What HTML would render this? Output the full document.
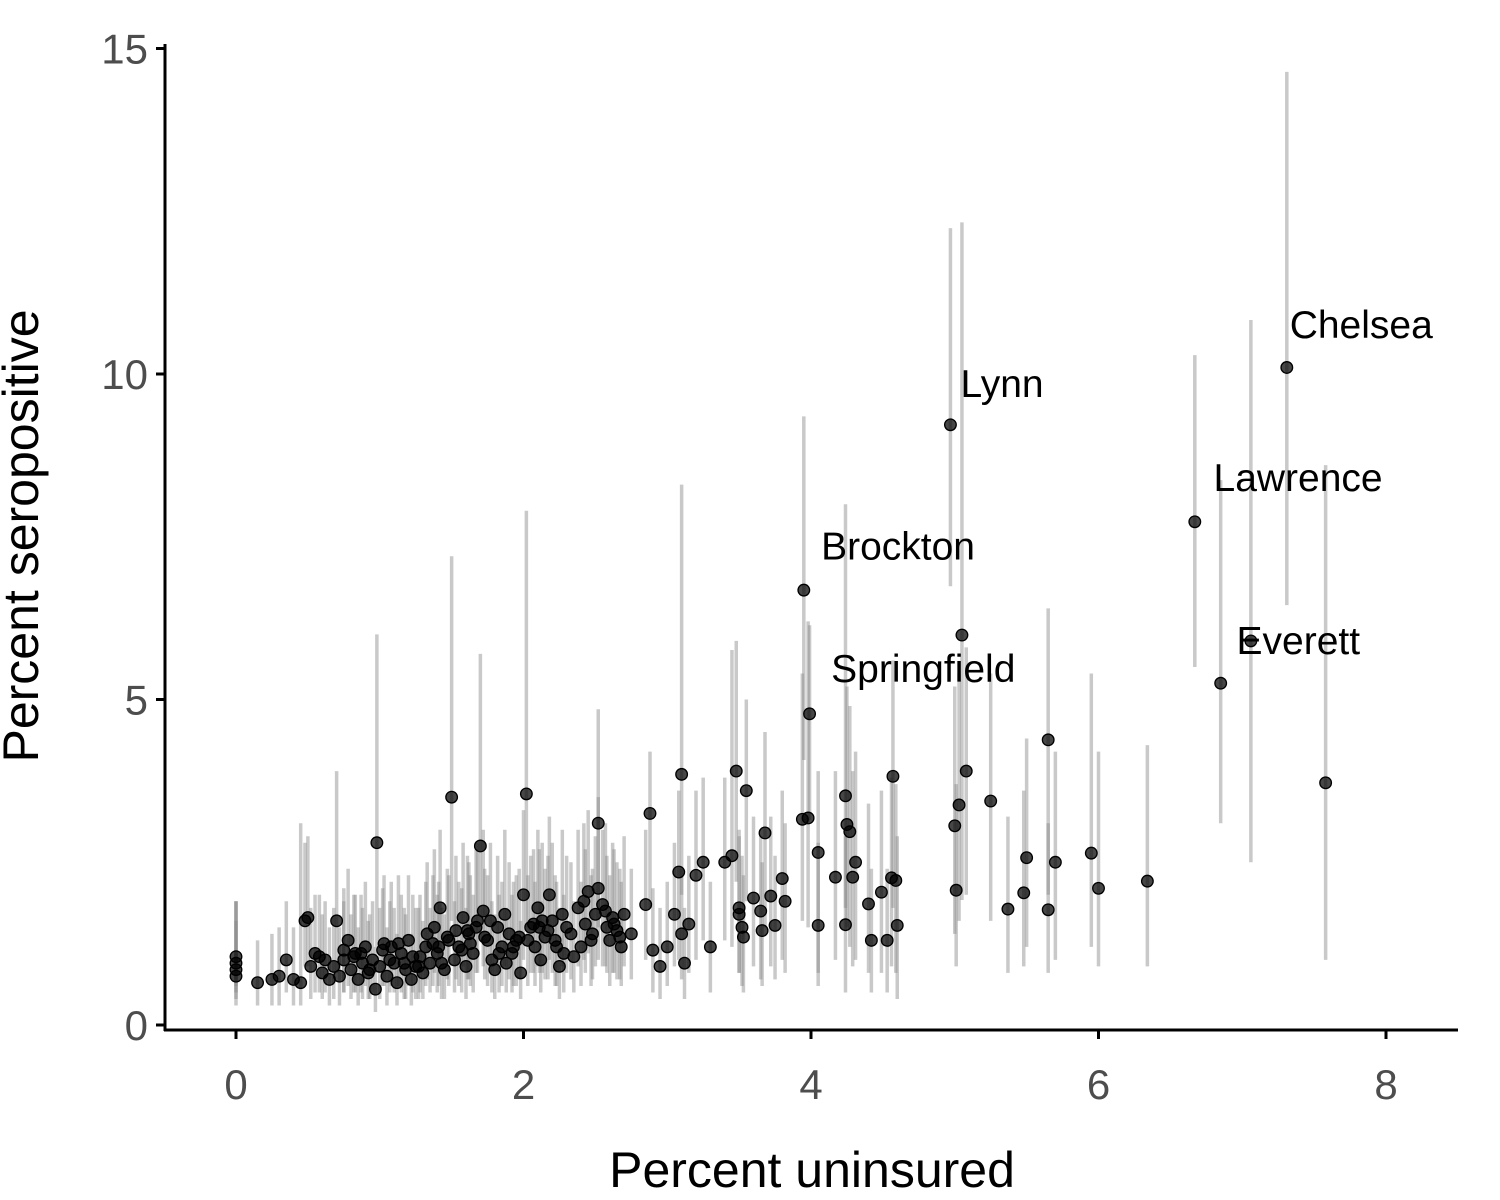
<!DOCTYPE html>
<html><head><meta charset="utf-8"><style>
html,body{margin:0;padding:0;background:#fff}
svg{display:block;font-family:"Liberation Sans",sans-serif}
</style></head><body>
<svg id="chart" width="1500" height="1200" viewBox="0 0 1500 1200" xmlns="http://www.w3.org/2000/svg">
<g id="cis"></g>
<g id="pts"></g>
<g id="labels"></g>
<g id="axes"></g>
</svg>
<script>
const xs=[0,0,0,0,0.15,0.25,0.3,0.35,0.4,0.45,0.48,0.5,0.52,0.55,0.6,0.62,0.65,0.68,0.7,0.72,0.75,0.78,0.8,0.82,0.85,0.88,0.9,0.92,0.95,0.97,0.98,1.0,1.02,1.05,1.08,1.1,1.12,1.15,1.18,1.2,1.22,1.25,1.28,1.3,1.32,1.35,1.38,1.4,1.42,1.45,1.48,1.5,1.52,1.55,1.58,1.6,1.62,1.65,1.68,1.7,1.72,1.75,1.78,1.8,1.82,1.85,1.88,1.9,1.92,1.95,1.98,2.0,2.02,2.05,2.08,2.1,2.12,2.15,2.18,2.2,2.22,2.25,2.28,2.3,2.35,2.38,2.4,2.42,2.45,2.48,2.5,2.52,2.52,2.55,2.58,2.6,2.62,2.65,2.68,2.7,2.75,2.85,2.88,2.9,2.95,3.0,3.05,3.08,3.1,3.1,3.12,3.15,3.2,3.25,3.3,3.4,3.45,3.48,3.5,3.5,3.52,3.53,3.55,3.6,3.65,3.66,3.68,3.72,3.75,3.8,3.82,
4.05,3.94,3.98,4.17,4.05,4.24,4.25,4.27,4.31,4.29,4.24,4.4,4.42,4.49,4.53,4.57,4.56,4.59,4.6,5.0,5.03,5.01,5.08,5.25,5.37,5.48,5.5,5.65,5.65,5.7,5.95,6.0,6.34,
7.31,4.97,5.05,6.67,7.06,6.85,7.58,3.95,3.99,
0.58,0.75,0.87,0.93,1.07,1.13,1.23,1.27,1.33,1.37,1.43,1.47,1.53,1.57,1.63,1.67,1.73,1.77,1.83,1.87,1.93,1.97,2.03,2.07,2.13,2.17,2.23,2.27,2.33,2.43,2.47,2.57,2.63,2.67,1.03,0.83,1.17,1.41,1.61,2.11];
const ys=[0.85,0.95,1.05,0.75,0.65,0.7,0.75,1.0,0.7,0.65,1.6,1.65,0.9,1.1,0.8,1.0,0.7,0.9,1.6,0.75,1.0,1.3,0.85,1.05,0.7,0.95,1.2,0.8,1.0,0.55,2.8,0.9,1.15,0.75,1.2,0.95,0.65,1.1,0.85,1.3,0.7,0.9,1.05,0.8,1.2,0.95,1.5,1.1,1.8,0.85,1.3,3.5,1.0,1.2,1.65,0.9,1.4,1.1,1.6,2.75,1.75,1.3,1.0,0.85,1.5,1.2,0.95,1.4,1.1,1.3,0.8,2.0,3.55,1.5,1.2,1.8,1.0,1.35,2.0,1.6,1.3,0.9,1.1,1.5,1.05,1.8,1.2,1.9,2.05,1.4,1.7,3.1,2.1,1.85,1.5,1.3,1.65,1.45,1.2,1.7,1.4,1.85,3.25,1.15,0.9,1.2,1.7,2.35,3.85,1.4,0.95,1.55,2.3,2.5,1.2,2.5,2.6,3.9,1.8,1.7,1.5,1.35,3.6,1.95,1.75,1.45,2.95,1.98,1.53,2.25,1.9,
2.65,3.16,3.18,2.27,1.53,3.52,3.08,2.97,2.5,2.27,1.54,1.86,1.3,2.04,1.3,3.82,2.26,2.22,1.53,3.06,3.38,2.07,3.9,3.44,1.78,2.03,2.57,4.38,1.77,2.5,2.64,2.1,2.21,
10.1,9.22,5.99,7.73,5.9,5.25,3.72,6.68,4.78,
1.05,1.15,1.1,0.85,1.0,1.25,1.05,0.9,1.4,1.25,0.95,1.35,1.45,1.15,1.25,1.5,1.35,1.6,1.1,1.7,1.2,1.35,1.3,1.55,1.6,1.45,1.2,1.7,1.4,1.55,1.3,1.75,1.55,1.35,1.25,1.1,0.95,1.2,1.45,1.5];
const lo=[0.4,0.5,0.6,0.3,0.3,0.3,0.3,0.5,0.3,0.3,0.9,0.9,0.4,0.5,0.4,0.5,0.3,0.4,0.8,0.3,0.5,0.6,0.4,0.5,0.3,0.4,0.6,0.4,0.5,0.2,1.2,0.4,0.6,0.3,0.6,0.5,0.3,0.5,0.4,0.6,0.3,0.4,0.5,0.4,0.6,0.5,0.8,0.5,1.0,0.4,0.6,1.6,0.5,0.6,0.9,0.4,0.7,0.5,0.8,1.3,0.9,0.6,0.5,0.4,0.8,0.6,0.5,0.7,0.5,0.6,0.4,1.0,1.5,0.8,0.6,0.9,0.5,0.7,1.0,0.8,0.6,0.4,0.5,0.8,0.5,0.9,0.6,1.0,1.1,0.7,0.9,1.5,1.0,0.9,0.8,0.6,0.8,0.7,0.6,0.9,0.7,1.0,1.8,0.5,0.4,0.6,0.9,1.0,2.0,0.7,0.4,0.8,1.0,1.3,0.5,1.3,1.2,2.2,0.8,0.8,0.6,0.5,1.9,0.9,0.7,0.6,1.5,0.9,0.7,1.0,0.8,
0.8,1.6,1.5,1.0,0.6,1.8,1.5,1.2,1.0,0.9,0.5,0.8,0.5,0.8,0.5,1.8,0.9,0.8,0.4,1.4,1.6,0.9,2.0,1.6,0.8,0.9,1.2,2.0,0.8,1.0,1.2,0.9,0.9,
6.45,6.74,1.92,5.5,2.5,3.1,1.0,4.07,3.15,
0.5,0.5,0.5,0.4,0.5,0.6,0.5,0.4,0.7,0.6,0.4,0.7,0.7,0.5,0.6,0.8,0.7,0.8,0.5,0.9,0.6,0.7,0.6,0.8,0.8,0.7,0.6,0.9,0.7,0.8,0.6,0.9,0.8,0.7,0.6,0.5,0.4,0.6,0.7,0.8];
const hi=[1.9,1.9,1.9,1.6,1.3,1.4,1.5,1.9,1.5,3.1,2.8,2.9,1.8,2.0,1.7,1.9,1.5,1.8,3.9,1.5,1.9,2.4,1.7,2.0,1.5,1.8,2.2,1.6,1.9,1.2,6.0,1.8,2.1,1.5,2.2,1.8,1.4,2.0,1.7,2.3,1.4,1.8,2.0,1.6,2.2,1.8,2.7,2.0,3.0,1.7,2.3,7.2,1.9,2.2,2.8,1.8,2.5,2.0,2.8,5.7,3.0,2.3,1.9,1.7,2.6,2.2,1.8,2.5,2.0,2.3,1.6,3.3,7.9,2.6,2.2,3.0,1.9,2.4,3.2,2.8,2.3,1.8,2.0,2.6,1.9,3.0,2.2,3.1,3.3,2.4,2.9,4.85,3.5,3.0,2.6,2.3,2.8,2.5,2.2,2.9,2.4,3.0,4.2,2.1,1.8,2.2,2.8,3.6,8.3,2.4,1.8,2.6,3.6,3.8,2.2,3.8,5.76,5.9,3.0,2.9,2.6,2.3,5.0,3.2,2.9,2.5,4.5,3.2,2.6,3.6,3.1,
3.9,5.4,6.2,3.9,2.8,8.0,5.2,4.9,4.2,3.9,2.9,3.4,2.4,3.6,2.4,5.6,3.8,3.7,2.9,5.2,5.4,3.7,5.8,5.4,3.2,3.6,4.4,6.4,3.1,4.2,5.4,4.2,4.3,
14.64,12.24,12.33,10.29,10.83,8.37,8.6,9.35,6.14,
2.0,2.1,2.0,1.7,1.9,2.3,2.0,1.8,2.5,2.3,1.8,2.4,2.6,2.1,2.3,2.7,2.4,2.8,2.0,3.0,2.2,2.4,2.3,2.7,2.8,2.6,2.2,3.0,2.5,2.7,2.3,3.1,2.7,2.4,2.3,2.0,1.8,2.2,2.6,2.7];
const labelNames=["Chelsea","Lynn","Lawrence","Brockton","Springfield","Everett"];
const labelX=[7.33,5.04,6.8,4.07,4.14,6.96];
const labelY=[10.55,9.65,8.2,7.15,5.27,5.7];
const xTicks=[0,2,4,6,8];
const yTicks=[0,5,10,15];

const NS="http://www.w3.org/2000/svg";
const sx=v=>236+v*143.75;
const sy=v=>1025-v*65.1;
function mk(tag,attrs,parent){const e=document.createElementNS(NS,tag);for(const k in attrs)e.setAttribute(k,attrs[k]);parent.appendChild(e);return e;}
const cis=document.getElementById('cis'),pts=document.getElementById('pts'),lab=document.getElementById('labels'),ax=document.getElementById('axes');
for(let i=0;i<xs.length;i++){
  const l=mk('line',{x1:sx(xs[i]),x2:sx(xs[i]),y1:sy(lo[i]),y2:sy(hi[i]),stroke:'#888','stroke-opacity':0.45,'stroke-width':3.5},cis);
  
  
}
for(let i=0;i<xs.length;i++){
  const c=mk('circle',{cx:sx(xs[i]),cy:sy(ys[i]),r:5.8,fill:'rgba(0,0,0,0.72)',stroke:'#000','stroke-width':1.3},pts);
  
  
}
for(let i=0;i<labelNames.length;i++){
  const t=mk('text',{x:sx(labelX[i]),y:sy(labelY[i]),'font-size':39,fill:'#000'},lab);
  t.textContent=labelNames[i];
  
  
}
const ya=mk('line',{x1:165,x2:165,y1:44,y2:1031,stroke:'#000','stroke-width':3},ax);


const xa=mk('line',{x1:164,x2:1458,y1:1030,y2:1030,stroke:'#000','stroke-width':3},ax);


for(const t of xTicks){
  mk('line',{x1:sx(t),x2:sx(t),y1:1030,y2:1039,stroke:'#000','stroke-width':3},ax);
  const e=mk('text',{x:sx(t),y:1099,'font-size':42,fill:'#4d4d4d','text-anchor':'middle'},ax);
  e.textContent=t;
  
  
}
for(const t of yTicks){
  mk('line',{x1:156,x2:165,y1:sy(t),y2:sy(t),stroke:'#000','stroke-width':3},ax);
  const e=mk('text',{x:148,y:sy(t)+15,'font-size':42,fill:'#4d4d4d','text-anchor':'end'},ax);
  e.textContent=t;
  
  
}
const xt=mk('text',{x:812,y:1187,'font-size':50,fill:'#000','text-anchor':'middle'},ax);
xt.textContent='Percent uninsured';


const yt=mk('text',{x:0,y:0,'font-size':50,fill:'#000','text-anchor':'middle',transform:'translate(38,536) rotate(-90)'},ax);
yt.textContent='Percent seropositive';


</script>
</body></html>
